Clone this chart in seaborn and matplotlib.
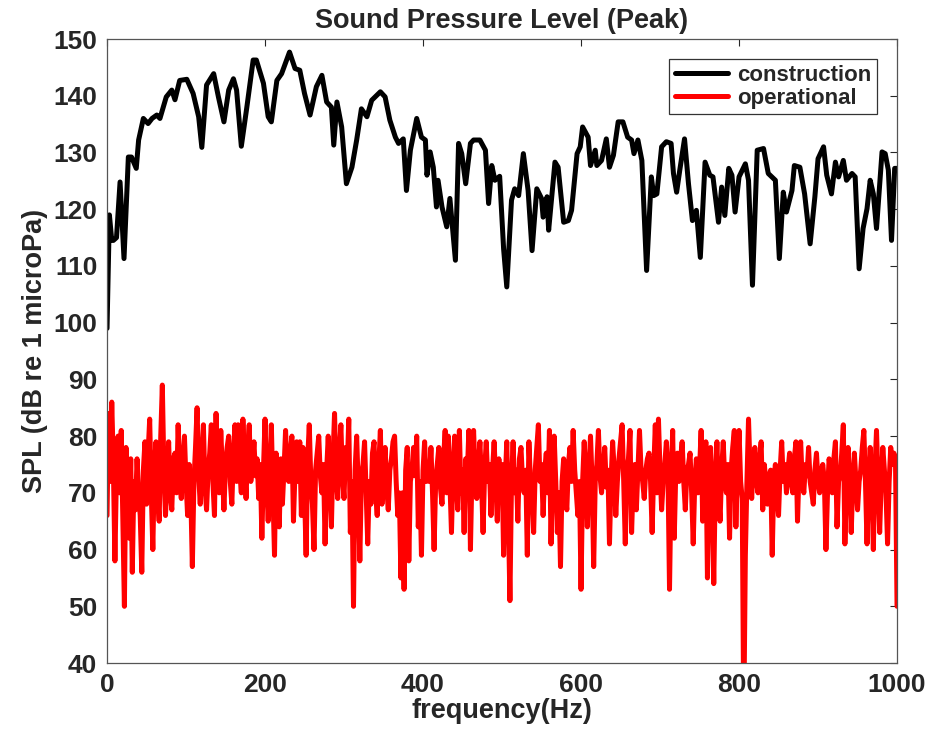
import matplotlib
matplotlib.use("Agg")
import matplotlib.pyplot as plt
import numpy as np
import pandas as pd
import seaborn as sns

# Peak sound pressure level spectra
construction_freq = [0, 3, 6, 8, 12, 16.5, 21.5, 27, 31, 37, 40, 46, 52, 57, 63, 67, 75, 82, 86, 92,
                     101, 109, 116, 120, 126, 135, 141, 148, 154, 160, 164, 170, 177, 185, 189, 198,
                     204, 208, 215, 221, 231, 238, 244, 250, 257, 265, 272, 278, 284, 287, 291, 297,
                     303, 310, 316, 322, 329, 335, 346, 352, 358, 365, 369, 375, 379, 384, 392, 398,
                     403, 405, 409, 413, 417, 419, 424, 430, 434, 441, 445, 449, 454, 460, 464, 472,
                     479, 483, 487, 491, 497, 502, 506, 512, 516, 521, 527, 533, 538, 544, 550, 552,
                     557, 559, 567, 571, 578, 584, 588, 595, 599, 602, 609, 612, 618, 620, 626, 632,
                     636, 641, 647, 653, 659, 664, 667, 672, 677, 683, 689, 692, 696, 702, 708, 714,
                     717, 721, 725, 731, 736, 741, 746, 751, 757, 763, 767, 774, 778, 782, 787, 791,
                     795, 800, 808, 812, 817, 823, 831, 837, 846, 851, 856, 860, 867, 870, 877, 883,
                     890, 896, 900, 907, 911, 917, 922, 926, 932, 936, 943, 947, 952, 957, 962, 966,
                     970, 974, 981, 985, 989, 993, 997, 1000]
construction_spl = [99, 119, 114.5, 114.5, 115, 124.8, 111.3, 129.2, 129.2, 127.2, 132.2, 136, 135.1,
                    136, 136.6, 136, 139.8, 141, 139.3, 142.7, 142.9, 140.4, 136.3, 130.9, 141.9,
                    143.9, 139.8, 135.4, 141, 143, 141, 131.1, 138, 146.3, 146.3, 142.2, 136.3, 135.4,
                    142.7, 143.9, 147.7, 144.8, 144.5, 140.4, 136.6, 141.6, 143.6, 138.9, 138, 131.3,
                    138.9, 134.5, 124.5, 127.4, 132.2, 137.7, 136.3, 139.2, 140.7, 139.8, 135.7,
                    132.7, 131.6, 132.4, 123.3, 130.4, 136, 132.7, 132.2, 126, 130.1, 127.4, 120.4,
                    125.1, 120.4, 116.9, 121.9, 111, 131.6, 129.8, 124.5, 131.6, 132.2, 132.2, 130.4,
                    121, 127.7, 125.1, 125.8, 113, 106.3, 121.6, 123.6, 122.4, 129.8, 123.3, 112.7,
                    123.6, 121.9, 118.6, 122.2, 116.3, 128.3, 127.4, 117.7, 118, 119.8, 129.8, 131,
                    134.5, 132.7, 127.7, 130.4, 127.7, 128.6, 132.4, 127.4, 129.5, 135.4, 135.4,
                    132.7, 132.2, 129.8, 132.2, 128.6, 109.2, 125.7, 122.4, 122.7, 131, 131.9, 131.6,
                    126.3, 123, 126.9, 132.4, 124.5, 118, 119.8, 111.5, 128.3, 126, 125.7, 117.7,
                    123.9, 118.9, 127.2, 126, 119.5, 125.7, 128, 125.1, 106.6, 130.4, 130.7, 126.3,
                    125.1, 111.3, 123, 119.5, 123.3, 127.7, 127.4, 122.7, 113.9, 122.2, 128.9, 131,
                    126, 122.7, 128.3, 125.7, 128.6, 125.1, 126.3, 125.7, 109.5, 116.6, 120.1, 125.1,
                    122.7, 116.6, 130.1, 129.8, 126.9, 114.5, 127.2, 127.2]

# Operational spectrum, one value every 2 Hz from 0 to 1000 Hz
operational_freq = list(range(0, 1001, 2))
operational_spl = [
    66, 84, 72, 86, 75, 58, 74, 80, 70, 81, 66, 50, 78, 70, 62, 76, 56, 72, 67, 76, 70, 66, 56, 74, 79,
    68, 77, 83, 70, 60, 75, 79, 70, 65, 80, 89, 74, 66, 72, 79, 70, 67, 76, 77, 70, 82, 73, 69, 76, 80,
    72, 66, 75, 70, 57, 72, 78, 85, 73, 68, 76, 82, 71, 67, 74, 77, 82, 72, 66, 84, 73, 70, 81, 74, 67,
    75, 78, 80, 72, 68, 77, 82, 72, 82, 74, 70, 83, 75, 69, 78, 82, 72, 75, 79, 73, 76, 69, 75, 62, 74,
    83, 72, 65, 74, 82, 70, 59, 77, 72, 64, 76, 68, 74, 81, 74, 72, 77, 80, 65, 74, 79, 72, 79, 66, 78,
    70, 59, 76, 82, 72, 68, 60, 74, 77, 80, 73, 70, 75, 61, 74, 80, 72, 64, 76, 84, 73, 69, 77, 82, 73,
    69, 78, 74, 83, 63, 72, 50, 74, 80, 71, 58, 73, 75, 79, 70, 61, 72, 68, 77, 79, 70, 66, 75, 81, 68,
    74, 78, 71, 67, 74, 76, 79, 80, 72, 66, 70, 55, 70, 53, 74, 78, 58, 72, 74, 78, 73, 80, 64, 72, 59,
    74, 79, 72, 75, 72, 78, 70, 60, 72, 75, 78, 71, 68, 76, 81, 70, 80, 72, 63, 74, 80, 72, 67, 81, 70,
    74, 63, 76, 73, 81, 60, 74, 81, 73, 69, 75, 79, 72, 63, 74, 79, 72, 75, 66, 74, 79, 72, 65, 76, 71,
    75, 59, 72, 79, 66, 51, 72, 79, 70, 74, 65, 76, 78, 72, 70, 74, 59, 79, 72, 70, 63, 74, 78, 82, 72,
    75, 66, 74, 77, 70, 81, 61, 74, 80, 72, 63, 70, 57, 72, 76, 70, 67, 75, 78, 72, 81, 74, 70, 66, 72,
    53, 72, 79, 73, 64, 74, 80, 72, 57, 72, 75, 81, 73, 70, 74, 78, 71, 74, 61, 72, 79, 74, 66, 72, 76,
    79, 82, 72, 61, 74, 76, 81, 63, 72, 75, 67, 74, 81, 74, 72, 69, 74, 76, 77, 72, 63, 74, 82, 70, 83,
    74, 67, 72, 75, 79, 74, 53, 72, 81, 62, 74, 77, 72, 76, 79, 72, 67, 74, 75, 77, 70, 61, 72, 76, 70,
    74, 81, 65, 72, 79, 55, 72, 78, 70, 54, 72, 79, 70, 65, 74, 79, 72, 70, 75, 62, 74, 78, 81, 64, 74,
    81, 72, 69, 30, 59, 72, 83, 74, 69, 75, 78, 72, 70, 76, 79, 67, 75, 72, 68, 73, 74, 59, 72, 75, 70,
    66, 74, 79, 72, 75, 70, 74, 77, 72, 70, 76, 79, 65, 74, 79, 72, 70, 75, 73, 78, 72, 70, 68, 74, 77,
    72, 70, 74, 75, 72, 60, 70, 76, 74, 70, 76, 79, 64, 72, 73, 77, 82, 61, 72, 78, 72, 63, 72, 77, 72,
    67, 72, 74, 78, 81, 72, 61, 72, 78, 72, 60, 74, 81, 72, 63, 72, 78, 74, 70, 61, 72, 78, 75, 77, 76,
    50,
]

series_names = ["construction", "operational"]
series_colors = ["black", "red"]
x_ticks = [0, 200, 400, 600, 800, 1000]
y_ticks = [40, 50, 60, 70, 80, 90, 100, 110, 120, 130, 140, 150]

sns.set_style("white")
plt.rcParams["font.family"] = ["Liberation Sans", "DejaVu Sans"]
plt.rcParams["font.weight"] = "bold"

construction = pd.DataFrame({"frequency": construction_freq, "SPL": construction_spl,
                             "series": series_names[0]})
operational = pd.DataFrame({"frequency": operational_freq, "SPL": operational_spl,
                            "series": series_names[1]})

fig = plt.figure(figsize=(9.29, 7.31), dpi=100)
ax = fig.add_axes([0.1152, 0.0930, 0.8504, 0.8536])

for df, color in zip([construction, operational], series_colors):
    sns.lineplot(data=df, x="frequency", y="SPL", color=color, linewidth=3.6,
                 estimator=None, sort=False, label=df["series"].iloc[0], ax=ax)

ax.set_xlim(0, 1000)
ax.set_ylim(40, 150)
ax.set_xticks(x_ticks)
ax.set_yticks(y_ticks)
ax.tick_params(axis="both", which="both", direction="in", length=5, width=0.8,
               top=True, right=True, labelsize=19, colors="#262626", pad=7)
for lab in ax.get_xticklabels() + ax.get_yticklabels():
    lab.set_fontweight("bold")
for sp in ax.spines.values():
    sp.set_visible(True)
    sp.set_color("#555555")
    sp.set_linewidth(0.9)

ax.set_title("Sound Pressure Level (Peak)", fontsize=19.5, fontweight="bold", pad=8)
ax.set_xlabel("frequency(Hz)", fontsize=19.5, fontweight="bold", color="#262626", labelpad=1)
ax.set_ylabel("SPL (dB re 1 microPa)", fontsize=19.5, fontweight="bold", color="#262626",
              labelpad=4)

leg = ax.legend(loc="upper right", fontsize=16, frameon=True, fancybox=False, framealpha=1,
                edgecolor="#333333", handlelength=2.4, borderaxespad=0.9, borderpad=0.25,
                labelspacing=0.1, handletextpad=0.4)
leg.get_frame().set_linewidth(0.9)
for t in leg.get_texts():
    t.set_fontweight("bold")

fig.savefig("out.png", dpi=100)
